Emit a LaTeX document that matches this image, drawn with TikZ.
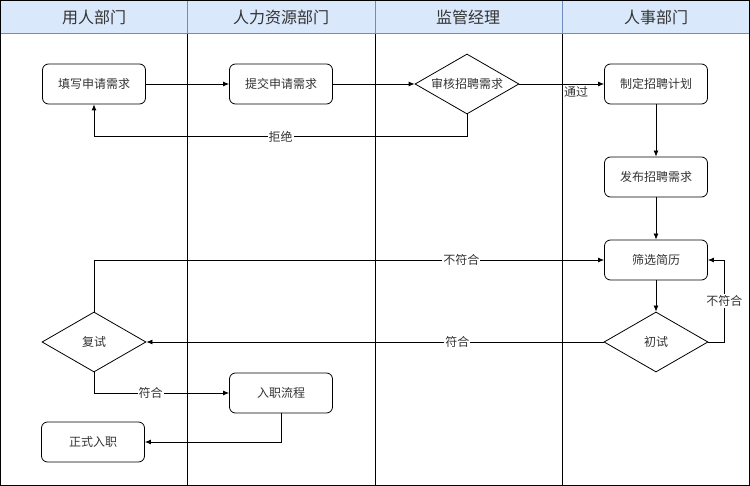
\documentclass[tikz,border=0pt]{standalone}
\usepackage{fontspec}
\setmainfont{Noto Sans CJK SC}
\usetikzlibrary{shapes.geometric,arrows.meta}
\definecolor{laneblue}{HTML}{DAE8FC}
\definecolor{laneline}{HTML}{6C8EBF}
\definecolor{txtgray}{HTML}{333333}
\begin{document}
\begin{tikzpicture}[x=1pt,y=-1pt,
  proc/.style={draw,rounded corners=6pt,minimum width=103pt,minimum height=40pt,font=\fontsize{12}{14}\selectfont,text=txtgray,line width=0.8pt},
  decide/.style={draw,diamond,aspect=1.7,inner sep=0pt,minimum width=104pt,minimum height=60pt,font=\fontsize{12}{14}\selectfont,text=txtgray,line width=0.8pt},
  arr/.style={-{Latex[length=6pt,width=5pt]},line width=0.8pt},
  lbl/.style={fill=white,inner sep=1pt,font=\fontsize{12}{14}\selectfont,text=txtgray}]
\useasboundingbox (0,0) rectangle (750,486);
% lanes
\fill[laneblue] (0,0) rectangle (750,34);
\draw[laneline,line width=1pt] (0,34) -- (750,34) (187,0) -- (187,34) (375,0) -- (375,34) (562,0) -- (562,34);
\draw[line width=1pt] (187,34) -- (187,486) (375,34) -- (375,486) (562,34) -- (562,486);
\draw[line width=1pt] (0.5,0.5) rectangle (749.2,485.5);
\node[font=\fontsize{16}{18}\selectfont,text=txtgray] (lane1) at (94,17) {用人部门};
\node[font=\fontsize{16}{18}\selectfont,text=txtgray] (lane2) at (281,17) {人力资源部门};
\node[font=\fontsize{16}{18}\selectfont,text=txtgray] (lane3) at (468,17) {监管经理};
\node[font=\fontsize{16}{18}\selectfont,text=txtgray] (lane4) at (656,17) {人事部门};
% steps
\node[proc] (tianxie) at (94,84) {填写申请需求};
\node[proc] (tijiao) at (281,84) {提交申请需求};
\node[decide] (shenhe) at (467,84) {审核招聘需求};
\node[proc] (zhiding) at (656,84) {制定招聘计划};
\node[proc] (fabu) at (656,177) {发布招聘需求};
\node[proc] (shaixuan) at (656,260) {筛选简历};
\node[decide] (chushi) at (656,342) {初试};
\node[decide] (fushi) at (94,342) {复试};
\node[proc] (ruzhi) at (281,393) {入职流程};
\node[proc] (zhengshi) at (93,442) {正式入职};
% flow
\draw[arr] (tianxie) -- (tijiao);
\draw[arr] (tijiao) -- (shenhe);
\draw[arr] (shenhe) -- node[below right,inner sep=2pt,font=\fontsize{12}{14}\selectfont,text=txtgray]{通过} (zhiding);
\draw[arr] (shenhe.south) -- ++(0,22) -| node[lbl,pos=0.25]{拒绝} (tianxie.south);
\draw[arr] (zhiding) -- (fabu);
\draw[arr] (fabu) -- (shaixuan);
\draw[arr] (shaixuan) -- (chushi);
\draw[arr] (chushi.east) -- ++(16,0) |- node[lbl,pos=0.25]{不符合} (shaixuan.east);
\draw[arr] (chushi) -- node[lbl,pos=0.32]{符合} (fushi);
\draw[arr] (fushi.north) |- node[lbl,pos=0.86]{不符合} (shaixuan.west);
\draw[arr] (fushi.south) |- node[lbl,pos=0.71]{符合} (ruzhi.west);
\draw[arr] (ruzhi.south) |- (zhengshi.east);
\end{tikzpicture}
\end{document}
